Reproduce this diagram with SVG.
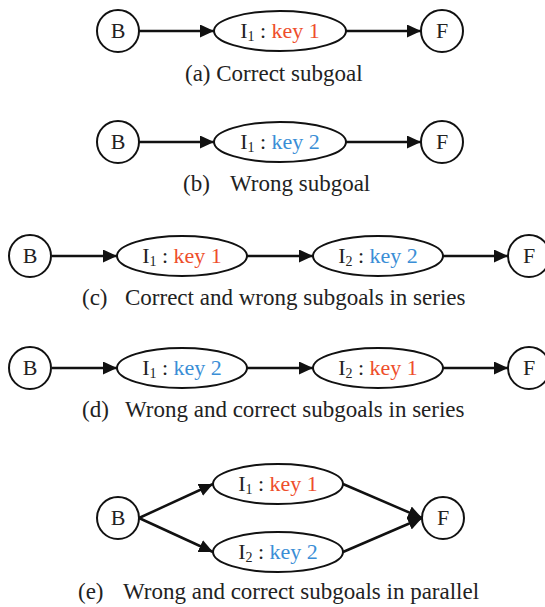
<svg xmlns="http://www.w3.org/2000/svg" width="545" height="607" viewBox="0 0 545 607">
<defs>
<style>
.bg{fill:#ffffff}
.node{fill:#ffffff;stroke:#111;stroke-width:2}
.lbl{font-family:"Liberation Serif","Times New Roman",serif;font-size:22px;fill:#222;text-anchor:middle}
.sub{font-size:14px}
.red{fill:#ee4e2b}
.blue{fill:#3a8ed6}
.cap{font-family:"Liberation Serif","Times New Roman",serif;font-size:23px;fill:#222}
.edge{stroke:#111;stroke-width:2.5;fill:none;marker-end:url(#ah)}
</style>
<marker id="ah" markerUnits="userSpaceOnUse" markerWidth="15" markerHeight="13" refX="14" refY="6.5" orient="auto">
<path d="M0,0 L14,6.5 L0,13 z" fill="#111"/>
</marker>
</defs>
<rect class="bg" width="545" height="607"/>

<g id="connectors">
<line class="edge" x1="139" y1="31" x2="214" y2="31"/>
<line class="edge" x1="346" y1="31" x2="421" y2="31"/>
<line class="edge" x1="139" y1="142" x2="214" y2="142"/>
<line class="edge" x1="346" y1="142" x2="421" y2="142"/>
<line class="edge" x1="52" y1="256" x2="117" y2="256"/>
<line class="edge" x1="247" y1="256" x2="313" y2="256"/>
<line class="edge" x1="443" y1="256" x2="508" y2="256"/>
<line class="edge" x1="52" y1="368" x2="117" y2="368"/>
<line class="edge" x1="247" y1="368" x2="313" y2="368"/>
<line class="edge" x1="443" y1="368" x2="508" y2="368"/>
<line class="edge" x1="139" y1="518" x2="213" y2="484"/>
<line class="edge" x1="139" y1="518" x2="213" y2="552"/>
<line class="edge" x1="343" y1="484" x2="422" y2="518"/>
<line class="edge" x1="343" y1="552" x2="422" y2="518"/>
</g>

<!-- Row a -->
<g id="a_B"><circle class="node" cx="118" cy="31" r="21"/><text class="lbl" x="118" y="38">B</text></g>
<g id="a_I1"><ellipse class="node" cx="280" cy="31" rx="66" ry="20"/><text class="lbl" x="280" y="38">I<tspan class="sub" dy="3">1</tspan><tspan dy="-3"> : </tspan><tspan class="red">key 1</tspan></text></g>
<g id="a_F"><circle class="node" cx="442" cy="31" r="21"/><text class="lbl" x="442" y="38">F</text></g>
<text class="cap" x="185" y="81">(a) Correct subgoal</text>

<!-- Row b -->
<g id="b_B"><circle class="node" cx="118" cy="142" r="21"/><text class="lbl" x="118" y="149">B</text></g>
<g id="b_I1"><ellipse class="node" cx="280" cy="142" rx="66" ry="20"/><text class="lbl" x="280" y="149">I<tspan class="sub" dy="3">1</tspan><tspan dy="-3"> : </tspan><tspan class="blue">key 2</tspan></text></g>
<g id="b_F"><circle class="node" cx="442" cy="142" r="21"/><text class="lbl" x="442" y="149">F</text></g>
<text class="cap" x="183" y="191">(b)</text>
<text class="cap" x="230" y="191">Wrong subgoal</text>

<!-- Row c -->
<g id="c_B"><circle class="node" cx="30" cy="256" r="21"/><text class="lbl" x="30" y="263">B</text></g>
<g id="c_I1"><ellipse class="node" cx="182" cy="256" rx="65" ry="20"/><text class="lbl" x="182" y="263">I<tspan class="sub" dy="3">1</tspan><tspan dy="-3"> : </tspan><tspan class="red">key 1</tspan></text></g>
<g id="c_I2"><ellipse class="node" cx="378" cy="256" rx="65" ry="20"/><text class="lbl" x="378" y="263">I<tspan class="sub" dy="3">2</tspan><tspan dy="-3"> : </tspan><tspan class="blue">key 2</tspan></text></g>
<g id="c_F"><circle class="node" cx="529" cy="256" r="21"/><text class="lbl" x="529" y="263">F</text></g>
<text class="cap" x="82" y="305">(c)</text>
<text class="cap" x="125" y="305">Correct and wrong subgoals in series</text>

<!-- Row d -->
<g id="d_B"><circle class="node" cx="30" cy="368" r="21"/><text class="lbl" x="30" y="375">B</text></g>
<g id="d_I1"><ellipse class="node" cx="182" cy="368" rx="65" ry="20"/><text class="lbl" x="182" y="375">I<tspan class="sub" dy="3">1</tspan><tspan dy="-3"> : </tspan><tspan class="blue">key 2</tspan></text></g>
<g id="d_I2"><ellipse class="node" cx="378" cy="368" rx="65" ry="20"/><text class="lbl" x="378" y="375">I<tspan class="sub" dy="3">2</tspan><tspan dy="-3"> : </tspan><tspan class="red">key 1</tspan></text></g>
<g id="d_F"><circle class="node" cx="529" cy="368" r="21"/><text class="lbl" x="529" y="375">F</text></g>
<text class="cap" x="82" y="417">(d)</text>
<text class="cap" x="125" y="417">Wrong and correct subgoals in series</text>

<!-- Row e -->
<g id="e_B"><circle class="node" cx="118" cy="518" r="21"/><text class="lbl" x="118" y="525">B</text></g>
<g id="e_I1"><ellipse class="node" cx="278" cy="484" rx="65" ry="20"/><text class="lbl" x="278" y="491">I<tspan class="sub" dy="3">1</tspan><tspan dy="-3"> : </tspan><tspan class="red">key 1</tspan></text></g>
<g id="e_I2"><ellipse class="node" cx="278" cy="552" rx="65" ry="20"/><text class="lbl" x="278" y="559">I<tspan class="sub" dy="3">2</tspan><tspan dy="-3"> : </tspan><tspan class="blue">key 2</tspan></text></g>
<g id="e_F"><circle class="node" cx="443" cy="518" r="21"/><text class="lbl" x="443" y="525">F</text></g>
<text class="cap" x="78" y="599">(e)</text>
<text class="cap" x="123" y="599">Wrong and correct subgoals in parallel</text>
</svg>
